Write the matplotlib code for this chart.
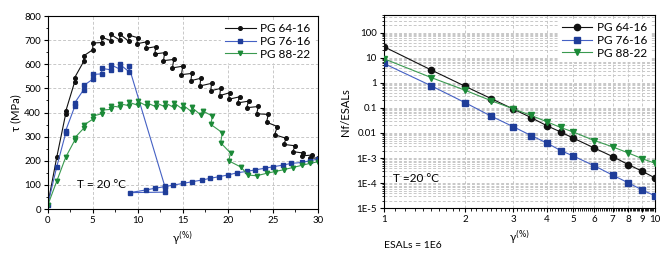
import numpy as np
import matplotlib
matplotlib.use("Agg")
import matplotlib.pyplot as plt
from matplotlib.ticker import FixedLocator, NullFormatter, LogLocator

plt.rcParams['font.family'] = ['Lato', 'DejaVu Sans']

# ---- left panel: shear stress vs strain ----
pg6416_x = [0, 1, 2, 2, 3, 3, 4, 4, 5, 5, 6, 6, 7, 7, 8, 8, 9, 9, 10, 9.9,
            11, 10.9, 12, 11.9, 13, 12.85, 14, 13.85, 15, 14.85, 16, 15.9,
            17, 16.9, 18.2, 18.1, 19.2, 19.1, 20.2, 20.1, 21.3, 21.1,
            22.3, 22.1, 23.4, 23.2, 24.5, 24.3, 25.5, 25.2, 26.5, 26.2,
            27.5, 27.2, 28.4, 28.2, 29.4, 29.1, 30]
pg6416_y = [17, 214, 395, 405, 528, 545, 612, 635, 660, 688, 690, 712,
            698, 724, 700, 725, 695, 721, 710, 685, 693, 666, 673, 643,
            648, 615, 620, 585, 592, 557, 562, 532, 542, 510, 521, 490,
            500, 470, 482, 455, 465, 440, 447, 420, 425, 395, 392, 360,
            342, 308, 293, 268, 262, 238, 232, 220, 224, 210, 212]

pg7616_x = [0, 1, 2, 2, 3, 3, 4, 4, 5, 5, 6, 6, 7, 7, 8, 8, 9, 9,
            13, 13, 9.1, 10.9, 11.9, 13, 13.9, 15, 16, 17.1, 18, 19, 20,
            21, 22.1, 23, 24.1, 25, 26.1, 27, 28.2, 29.1, 30]
pg7616_y = [17, 175, 315, 325, 425, 440, 495, 512, 538, 558, 560, 583,
            577, 598, 580, 600, 570, 592, 95, 70, 68, 79, 86, 93, 99,
            106, 113, 120, 127, 134, 141, 150, 156, 162, 169, 175, 182,
            189, 193, 200, 207]

pg8822_x = [0, 1, 2, 3, 3, 4, 4, 5, 5, 6, 6, 7, 7, 8, 8, 9, 9, 10, 10,
            11, 11, 12, 12, 13, 13, 14, 14, 15, 15, 16, 16, 17, 17.2,
            18.3, 18.1, 19.4, 19.2, 20.3, 20.1, 21.5, 22.2, 23.2, 24.3,
            25.2, 26.2, 27.2, 28.2, 29.1, 30]
pg8822_y = [15, 115, 215, 285, 295, 335, 348, 372, 385, 395, 410, 413,
            428, 422, 437, 428, 443, 430, 447, 427, 441, 424, 441, 424,
            441, 421, 441, 413, 431, 403, 421, 390, 407, 385, 351, 316,
            275, 232, 200, 173, 141, 138, 148, 155, 163, 172, 181, 189,
            196]

# ---- right panel: fatigue life vs strain ----
strain = [1, 1.5, 2, 2.5, 3, 3.5, 4, 4.5, 5, 6, 7, 8, 9, 10]
nf_6416 = [27.5, 3.2, 0.72, 0.23, 0.091, 0.041, 0.0195, 0.011, 0.0063,
           0.0025, 0.00115, 5.5e-4, 3.0e-4, 1.65e-4]
nf_7616 = [5.9, 0.75, 0.16, 0.046, 0.018, 0.0079, 0.004, 0.002, 0.00122,
           4.9e-4, 2.1e-4, 1.03e-4, 5.4e-5, 3.2e-5]
nf_8822 = [9.1, 1.6, 0.5, 0.19, 0.093, 0.05, 0.028, 0.0166, 0.011,
           0.005, 0.0028, 0.0016, 9.5e-4, 6.3e-4]

y_ticks_r = [1e-5, 1e-4, 1e-3, 1e-2, 1e-1, 1, 10, 100]
y_labels_r = ['1E-5', '1E-4', '1E-3', '0.01', '0.1', '1', '10', '100']

black = '#111111'
blue_m, blue_l = '#1f3d99', '#4561c4'
green_m, green_l = '#1c8a38', '#3a9a50'

fig = plt.figure(figsize=(6.72, 2.54), dpi=100)
ax1 = fig.add_axes([0.071, 0.177, 0.402, 0.760])
ax2 = fig.add_axes([0.571, 0.180, 0.403, 0.761])

lw = 0.8
ax1.plot(pg6416_x, pg6416_y, '-o', color=black, lw=lw, ms=2.6, label='PG 64-16')
ax1.plot(pg7616_x, pg7616_y, '-s', color=blue_l, mfc=blue_m, mec=blue_m,
         lw=lw, ms=2.6, label='PG 76-16')
ax1.plot(pg8822_x, pg8822_y, '-v', color=green_l, mfc=green_m, mec=green_m,
         lw=lw, ms=3.2, label='PG 88-22')
ax1.set_xlim(0, 30)
ax1.set_ylim(0, 800)
ax1.set_xticks(range(0, 31, 5))
ax1.set_yticks(range(0, 801, 100))
ax1.xaxis.set_minor_locator(FixedLocator(np.arange(0, 31, 2.5)))
ax1.yaxis.set_minor_locator(FixedLocator(np.arange(0, 801, 50)))
ax1.grid(True, which='major', ls=(0, (3, 2)), color='#c8c8c8', lw=0.7)
ax1.set_ylabel('τ (MPa)', fontsize=8, labelpad=2)
ax1.set_xlabel('γ$^{(\\%)}$', fontsize=8, labelpad=3)
ax1.text(3.2, 100, 'T = 20 °C', fontsize=8.5, va='center')
leg1 = ax1.legend(loc='upper right', fontsize=8.5, frameon=True, fancybox=False,
                  edgecolor='none', framealpha=1, handlelength=2.6,
                  handletextpad=0.4, borderpad=0.3, labelspacing=0.15,
                  borderaxespad=0.3)

ax2.plot(strain, nf_6416, '-o', color=black, mfc=black, lw=lw, ms=4.5,
         label='PG 64-16', zorder=3)
ax2.plot(strain, nf_7616, '-s', color=blue_l, mfc=blue_m, mec=blue_m, lw=lw,
         ms=4, label='PG 76-16', zorder=3)
ax2.plot(strain, nf_8822, '-v', color=green_l, mfc=green_m, mec=green_m,
         lw=lw, ms=5, label='PG 88-22', zorder=3)
ax2.set_xscale('log')
ax2.set_yscale('log')
ax2.set_xlim(1, 10)
ax2.set_ylim(1e-5, 500)
ax2.set_xticks(range(1, 11))
ax2.set_xticklabels([str(i) for i in range(1, 11)])
ax2.xaxis.set_minor_locator(FixedLocator(np.arange(1, 10, 0.1)))
ax2.xaxis.set_minor_formatter(NullFormatter())
ax2.set_yticks(y_ticks_r)
ax2.set_yticklabels(y_labels_r)
ax2.yaxis.set_minor_locator(LogLocator(base=10, subs=np.arange(2, 10)))
ax2.yaxis.set_minor_formatter(NullFormatter())
ax2.grid(True, which='major', axis='x', ls=(0, (3, 2)), color='#c8c8c8', lw=0.7)
ax2.grid(True, which='both', axis='y', ls=(0, (3, 2)), color='#c8c8c8', lw=0.7)
ax2.set_ylabel('Nf/ESALs', fontsize=8, labelpad=4)
ax2.set_xlabel('γ$^{(\\%)}$', fontsize=8, labelpad=3)
ax2.text(1.08, 1.6e-4, 'T =20 °C', fontsize=8.5, va='center')
ax2.text(0.0, -0.17, 'ESALs = 1E6', fontsize=7.5, transform=ax2.transAxes,
         va='top')
leg2 = ax2.legend(loc='upper right', fontsize=8.5, frameon=True, fancybox=False,
                  edgecolor='none', framealpha=1, handlelength=2.6,
                  handletextpad=0.4, borderpad=0.3, labelspacing=0.15,
                  borderaxespad=0.3)

for ax in (ax1, ax2):
    ax.tick_params(which='major', direction='out', length=3, width=0.8,
                   labelsize=7, pad=2)
    ax.tick_params(which='minor', direction='out', length=1.8, width=0.6)
    for s in ax.spines.values():
        s.set_linewidth(0.8)
    ax.set_axisbelow(True)

fig.savefig('out.png', dpi=100)
